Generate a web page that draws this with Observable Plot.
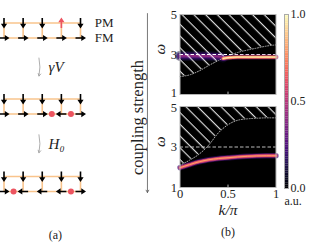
<!DOCTYPE html>
<html><head><meta charset="utf-8">
<script src="https://cdn.jsdelivr.net/npm/d3@7"></script>
<script src="https://cdn.jsdelivr.net/npm/@observablehq/plot@0.6"></script>
<style>
body{margin:0;background:white;}
#fig{position:relative;width:311px;height:245px;overflow:hidden;}
#fig > div{position:absolute;}
#fig svg text{font-family:'Liberation Serif','DejaVu Serif',serif;}
</style></head><body>
<svg width="0" height="0" style="position:absolute">
<defs>
<pattern id="hatch" patternUnits="userSpaceOnUse" width="8.3" height="8.3" patternTransform="rotate(-45)">
<line x1="4" y1="-1" x2="4" y2="10" stroke="white" stroke-width="1"/>
</pattern>
</defs></svg>
<div id="fig"></div>
<script>
// ---------- (a) schematic data ----------
const sites = [0, 1, 2, 3, 4];
const topSpins = [
  ["down", "down", "down", "up", "down"],
  ["down", "down", "down", "down", "down"],
  ["down", "down", "down", "down", "down"]
];
const bottomSpins = [
  ["right", "right", "right", "right", "right"],
  ["right", "right", "right", "left", "right"],
  ["right", "left", "left", "left", "right"]
];
const domainWalls = [[], [2.5, 3.5], [0.5, 3.5]];
const diagramRow = [0, 5.07, 10.23];
const legLabels = ["PM", "FM"];
const processLabels = ["γV", "H₀"];

// ---------- (b) spectra data ----------
const kGrid = [0, 0.1, 0.2, 0.3, 0.4, 0.5, 0.6, 0.7, 0.8, 0.9, 1];
const topBoundary = [1.9, 1.98, 2.18, 2.45, 2.7, 2.92, 3.1, 3.22, 3.32, 3.42, 3.48];
const bottomBoundary = [2.1, 2.35, 2.65, 3.1, 3.7, 4.1, 4.32, 4.39, 4.42, 4.44, 4.44];
const bottomBand = [1.98, 2.13, 2.27, 2.37, 2.43, 2.47, 2.51, 2.54, 2.56, 2.57, 2.57];
const topBroadK = [0, 0.1, 0.2, 0.3, 0.4, 0.45];
const topBroadW = [2.93, 2.93, 2.93, 2.92, 2.9, 2.85];
const topSharpK = [0.45, 0.5, 0.55, 0.6, 0.7, 0.8, 0.9, 1];
const topSharpW = [2.8, 2.84, 2.86, 2.87, 2.87, 2.87, 2.87, 2.87];
const refLevel = 3;
const yTicks = [1, 3, 5];
const xTicks = [0, 0.5, 1];
const cbTicks = [0, 0.5, 1];

const serif = "'Liberation Serif', 'DejaVu Serif', serif";
const red = "#ec5460";
const ladderColor = "#f9c48c";
const fig = document.getElementById("fig");
function place(node, left, top, w) {
  const d = document.createElement("div");
  d.style.left = left + "px"; d.style.top = top + "px"; d.style.width = w + "px";
  d.appendChild(node); fig.appendChild(d);
}

// arrow glyph symbols (shaft + filled head), 0 = pointing down
function arrowSymbol(angle) {
  const pts = [[-0.8, -5], [0.8, -5], [0.8, 0.8], [3.1, 0.8], [0, 5.5], [-3.1, 0.8], [-0.8, 0.8]];
  const c = Math.cos(angle), s = Math.sin(angle);
  const rp = pts.map(([x, y]) => [x * c - y * s, x * s + y * c]);
  return {draw(ctx) { ctx.moveTo(rp[0][0], rp[0][1]); for (let i = 1; i < rp.length; i++) ctx.lineTo(rp[i][0], rp[i][1]); ctx.closePath(); }};
}
const symbols = {down: arrowSymbol(0), up: arrowSymbol(Math.PI), right: arrowSymbol(-Math.PI / 2), left: arrowSymbol(Math.PI / 2)};

const spins = [];
diagramRow.forEach((row, d) => sites.forEach(s => {
  spins.push({site: s, y: row, dir: topSpins[d][s]});
  spins.push({site: s, y: row + 1, dir: bottomSpins[d][s]});
}));
const walls = diagramRow.flatMap((row, d) => domainWalls[d].map(w => ({x: w, y: row + 1})));
const legs = diagramRow.flatMap(row => [0, 1].map(o => ({y: row + o})));
const rungs = diagramRow.flatMap(row => sites.map(s => ({x: s, y1: row, y2: row + 1})));
const steps = processLabels.map((label, i) => ({label, mid: (diagramRow[i] + 1 + diagramRow[i + 1]) / 2 - 0.1}));

const panelA = Plot.plot({
  width: 152, height: 245, margin: 0,
  style: {background: "transparent", fontFamily: serif, color: "#222", overflow: "visible"},
  x: {domain: [0, 4], range: [3.5, 80], axis: null},
  y: {domain: [0, 14], range: [22.5, 232.5], axis: null},
  marks: [
    Plot.link(legs, {x1: 0, x2: 4, y1: "y", y2: "y", stroke: ladderColor, strokeWidth: 1.6}),
    Plot.link(rungs, {x1: "x", x2: "x", y1: "y1", y2: "y2", stroke: ladderColor, strokeWidth: 1.6}),
    ...["down", "right", "left"].map(dir => Plot.dot(spins.filter(d => d.dir === dir), {x: "site", y: "y", symbol: symbols[dir], fill: "black", stroke: "none"})),
    Plot.dot(spins.filter(d => d.dir === "up"), {x: "site", y: "y", symbol: symbols.up, fill: red, stroke: "none"}),
    Plot.dot(walls, {x: "x", y: "y", r: 3, fill: red, stroke: "none"}),
    Plot.text(legLabels, {x: 4.74, y: (d, i) => diagramRow[0] + i, text: d => d, textAnchor: "start", fontSize: 13, fontFamily: serif}),
    Plot.arrow(steps, {x1: 1.83, x2: 1.83, y1: d => d.mid - 0.6, y2: d => d.mid + 0.6, bend: 12, stroke: "#999", strokeWidth: 0.8, headLength: 5}),
    Plot.text(steps, {x: 2.33, y: "mid", text: "label", textAnchor: "start", fontStyle: "italic", fontSize: 15, fontFamily: serif}),
    Plot.text(["(a)"], {x: 2.69, y: 14.17, text: d => d, fontSize: 12, fontFamily: serif}),
    Plot.arrow([0], {x1: 7.5, x2: 7.5, y1: -0.63, y2: 11.3, stroke: "#555", strokeWidth: 0.8, headLength: 5}),
    Plot.text(["coupling strength"], {x: 6.98, y: 6.3, text: d => d, rotate: -90, fontSize: 16.5, fontFamily: serif})
  ]
});
place(panelA, 0, 0, 152);

const rows = (ks, ws) => ks.map((k, i) => ({k, w: ws[i]}));
const glow = (data, layers) => layers.map(([w, t, op]) => Plot.line(data, {x: "k", y: "w", stroke: d3.interpolateMagma(t), strokeWidth: w, strokeOpacity: op, curve: "monotone-x"}));

function spectrum({height, marginTop, marginBottom, under, boundary, over, dashColor, bottom, edgeTick, edgeShift}) {
  const tickText = {x: 0, y: d => d, text: d => String(d), textAnchor: "end", dx: -3, fontSize: 12.5, fontFamily: serif};
  return Plot.plot({
    width: 140, height, marginLeft: 29.5, marginRight: 14.5, marginTop, marginBottom,
    style: {background: "transparent", fontFamily: serif, fontSize: "12.5px", color: "#222", overflow: "visible"},
    x: bottom ? {domain: [0, 1], label: null, ticks: xTicks, tickSize: 0, tickPadding: 2, tickFormat: d => String(d)} : {domain: [0, 1], axis: null},
    y: {domain: [1, 5], axis: null},
    marks: [
      Plot.frame({fill: "black"}),
      ...under,
      Plot.areaY(boundary, {x: "k", y1: "w", y2: 5, fill: "url(#hatch)", curve: "monotone-x"}),
      Plot.line(boundary, {x: "k", y: "w", stroke: "#aaa", strokeWidth: 1, strokeDasharray: "1,1.6", curve: "monotone-x"}),
      Plot.ruleY([refLevel], {stroke: dashColor, strokeDasharray: "3.5,2", strokeWidth: 1}),
      ...over,
      Plot.ruleX([0.5], {y1: 1, y2: 1.12, stroke: "#bbb"}),
      Plot.frame({stroke: "#b5b5b5"}),
      Plot.text(yTicks.filter(v => v !== edgeTick), tickText),
      Plot.text(yTicks.filter(v => v === edgeTick), {...tickText, dy: edgeShift}),
      Plot.text(["ω"], {frameAnchor: "left", dx: -19.5, rotate: -90, text: d => d, fontStyle: "italic", fontSize: 15, fontFamily: serif}),
      ...(bottom ? [
        Plot.text(["k/π"], {frameAnchor: "bottom", dy: 27, text: d => d, fontStyle: "italic", fontSize: 15.5, fontFamily: serif}),
        Plot.text(["(b)"], {frameAnchor: "bottom", dy: 48, text: d => d, fontSize: 12, fontFamily: serif})
      ] : [])
    ]
  });
}

const topPanel = spectrum({
  height: 100, marginTop: 14, marginBottom: 6,
  under: glow(rows(topBroadK, topBroadW), [[10, 0.1, 0.5], [7, 0.2, 0.7], [4, 0.3, 0.85], [1.8, 0.42, 0.9]]),
  boundary: rows(kGrid, topBoundary),
  over: glow(rows(topSharpK, topSharpW), [[5, 0.35, 0.5], [3.2, 0.68, 1], [2, 0.84, 1], [0.9, 0.98, 1]]),
  dashColor: "white", bottom: false, edgeTick: 1, edgeShift: -1.5
});
place(topPanel, 150, 0, 140);

const bottomPanel = spectrum({
  height: 145, marginTop: 6, marginBottom: 58,
  under: glow(rows(kGrid, bottomBand), [[5.5, 0.2, 0.6], [3.8, 0.45, 1], [2.4, 0.65, 1], [1, 0.8, 1]]),
  boundary: rows(kGrid, bottomBoundary),
  over: [],
  dashColor: "#bbb", bottom: true, edgeTick: 5, edgeShift: 1.5
});
place(bottomPanel, 150, 100, 140);

const cbSteps = d3.range(0, 1, 0.01);
const colorbar = Plot.plot({
  width: 41, height: 245, marginLeft: 14, marginRight: 23, marginTop: 14, marginBottom: 57,
  style: {background: "transparent", fontFamily: serif, fontSize: "12px", color: "#222", overflow: "visible"},
  x: {domain: [0, 1], axis: null},
  y: {domain: [0, 1], axis: "right", label: null, ticks: cbTicks, tickSize: 0, tickPadding: 2, tickFormat: d => d.toFixed(1)},
  color: {type: "linear", scheme: "magma", domain: [0, 1]},
  marks: [
    Plot.rect(cbSteps, {x1: 0, x2: 1, y1: d => d, y2: d => d + 0.0105, fill: d => d + 0.005}),
    Plot.frame({stroke: "#aaa"}),
    Plot.text(["a.u."], {frameAnchor: "bottom-left", dy: 16, text: d => d, textAnchor: "start", fontSize: 12, fontFamily: serif})
  ]
});
place(colorbar, 270, 0, 41);
</script>
</body></html>
